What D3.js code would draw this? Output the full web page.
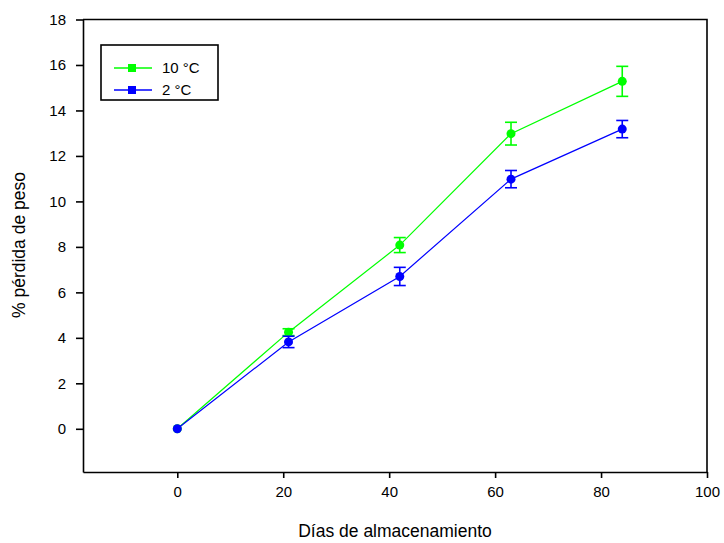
<!DOCTYPE html>
<html>
<head>
<meta charset="utf-8">
<script src="https://cdn.jsdelivr.net/npm/d3@7"></script>
<style>
body { margin: 0; background: #fff; }
svg { font-family: "Liberation Sans", Arial, sans-serif; }
</style>
</head>
<body>
<div id="chart"></div>
<script>
var days = [0, 21, 42, 63, 84];
var loss10 = [0, 4.25, 8.08, 12.98, 15.28];
var err10 = [0, 0.15, 0.33, 0.5, 0.66];
var loss2 = [0, 3.82, 6.7, 10.98, 13.18];
var err2 = [0, 0.25, 0.4, 0.38, 0.38];
var xTicks = [0, 20, 40, 60, 80, 100];
var yTicks = [0, 2, 4, 6, 8, 10, 12, 14, 16, 18];
var seriesNames = ['10 °C', '2 °C'];

var series = [
    { name: seriesNames[0], color: '#00ff00', y: loss10, e: err10 },
    { name: seriesNames[1], color: '#0000ff', y: loss2, e: err2 }
];

var W = 724, H = 543;
var m = { l: 83, r: 17, t: 19.5, b: 71 };

var svg = d3.select('#chart').append('svg')
    .attr('width', W).attr('height', H);

var x = d3.scaleLinear().domain([-17.8, 100]).range([m.l, W - m.r]);
var y = d3.scaleLinear().domain([-1.9, 18]).range([H - m.b, m.t]);

// axes
svg.append('g')
    .attr('transform', 'translate(0,' + (H - m.b) + ')')
    .call(d3.axisBottom(x).tickValues(xTicks).tickSize(6).tickSizeOuter(0).tickPadding(8))
    .call(function(g) {
	g.select('.domain').attr('stroke-width', 1.6);
	g.selectAll('.tick line').attr('stroke-width', 1.6);
	g.selectAll('text').attr('font-size', 15).attr('fill', '#000');
    });

svg.append('g')
    .attr('transform', 'translate(' + m.l + ',0)')
    .call(d3.axisLeft(y).tickValues(yTicks).tickSize(7).tickSizeOuter(0).tickPadding(10))
    .call(function(g) {
	g.select('.domain').attr('stroke-width', 1.6);
	g.selectAll('.tick line').attr('stroke-width', 1.6);
	g.selectAll('text').attr('font-size', 15).attr('fill', '#000');
    });

// top and right frame
svg.append('path')
    .attr('d', 'M' + m.l + ',' + m.t + 'H' + (W - m.r) + 'V' + (H - m.b))
    .attr('fill', 'none').attr('stroke', '#000').attr('stroke-width', 1.6);

// titles
svg.append('text')
    .attr('x', 395).attr('y', 537)
    .attr('text-anchor', 'middle')
    .attr('font-size', 17.5)
    .text('Días de almacenamiento');

svg.append('text')
    .attr('transform', 'translate(25,' + 245 + ') rotate(-90)')
    .attr('text-anchor', 'middle')
    .attr('font-size', 17.5)
    .text('% pérdida de peso');

// series
var line = d3.line()
    .x(function(d) { return x(d.x); })
    .y(function(d) { return y(d.y); });

series.forEach(function(s) {
    var pts = days.map(function(d, i) { return { x: d, y: s.y[i], e: s.e[i] }; });
    var g = svg.append('g');
    g.append('path')
	.datum(pts)
	.attr('d', line)
	.attr('fill', 'none')
	.attr('stroke', s.color)
	.attr('stroke-width', 1.2);

    var eb = g.selectAll('.eb')
	.data(pts.filter(function(p) { return p.e > 0; }))
	.enter().append('g')
	.attr('stroke', s.color)
	.attr('stroke-width', 1.6);
    eb.append('line')
	.attr('x1', function(p) { return x(p.x); })
	.attr('x2', function(p) { return x(p.x); })
	.attr('y1', function(p) { return y(p.y - p.e); })
	.attr('y2', function(p) { return y(p.y + p.e); });
    [-1, 1].forEach(function(sgn) {
	eb.append('line')
	    .attr('x1', function(p) { return x(p.x) - 6; })
	    .attr('x2', function(p) { return x(p.x) + 6; })
	    .attr('y1', function(p) { return y(p.y + sgn * p.e); })
	    .attr('y2', function(p) { return y(p.y + sgn * p.e); });
    });

    g.selectAll('circle')
	.data(pts)
	.enter().append('circle')
	.attr('cx', function(p) { return x(p.x); })
	.attr('cy', function(p) { return y(p.y); })
	.attr('r', 4.5)
	.attr('fill', s.color);
});

// legend
var lg = svg.append('g');
lg.append('rect')
    .attr('x', 101).attr('y', 45)
    .attr('width', 117).attr('height', 55)
    .attr('fill', '#fff')
    .attr('stroke', '#000').attr('stroke-width', 1.6);

series.forEach(function(s, i) {
    var ly = 68 + i * 22;
    lg.append('line')
	.attr('x1', 114).attr('x2', 152)
	.attr('y1', ly).attr('y2', ly)
	.attr('stroke', s.color).attr('stroke-width', 1.4);
    lg.append('rect')
	.attr('x', 128).attr('y', ly - 4)
	.attr('width', 8).attr('height', 8)
	.attr('fill', s.color);
    lg.append('text')
	.attr('x', 162).attr('y', ly + 5)
	.attr('font-size', 15)
	.text(s.name);
});
</script>
</body>
</html>
